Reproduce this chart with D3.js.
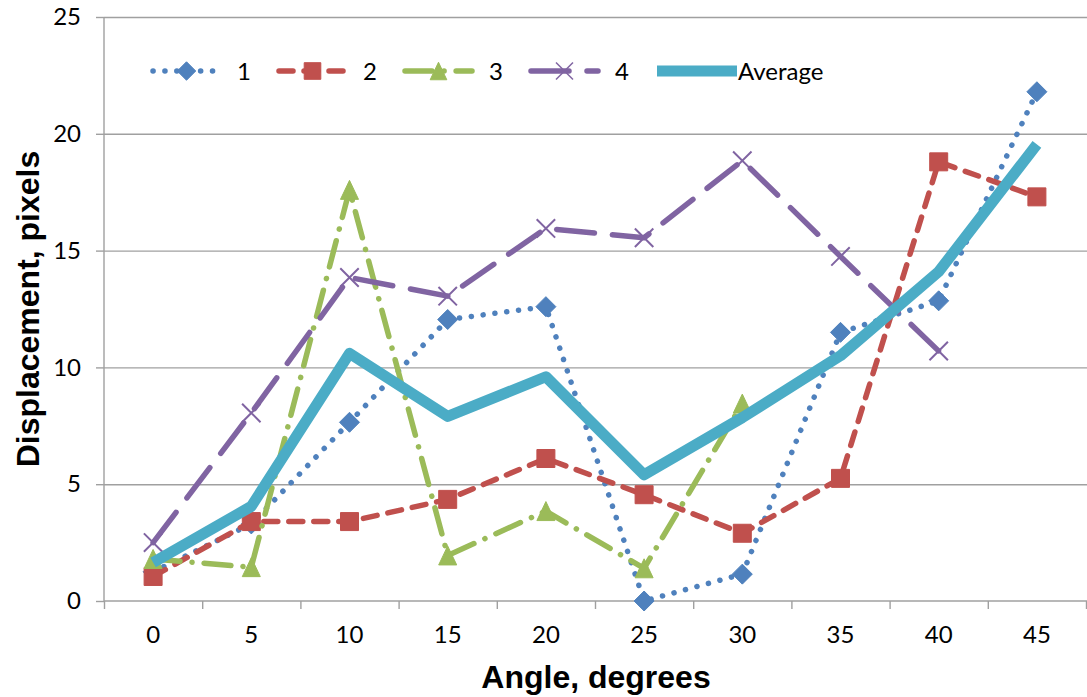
<!DOCTYPE html>
<html>
<head>
<meta charset="utf-8">
<script src="https://cdn.jsdelivr.net/npm/d3@7/dist/d3.min.js"></script>
<style>
  html, body { margin: 0; padding: 0; background: #fff; }
  svg { display: block; }
  text { font-family: Lato, "Liberation Sans", sans-serif; fill: #000; }
  .axis-title { font-family: "Liberation Sans", Arial, sans-serif; font-weight: bold; }
</style>
</head>
<body>
<svg id="chart" width="1087" height="697"></svg>
<script>
// Angle categories along the x axis
const categories = [0, 5, 10, 15, 20, 25, 30, 35, 40, 45];
// Displacement per run (pixels); null where a run has no measurement
const series1 = [1.25, 3.3, 7.65, 12.05, 12.6, 0, 1.15, 11.5, 12.85, 21.8];
const series2 = [1.05, 3.4, 3.4, 4.35, 6.1, 4.55, 2.9, 5.25, 18.8, 17.3];
const series3 = [1.8, 1.45, 17.6, 1.95, 3.85, 1.4, 8.45, null, null, null];
const series4 = [2.5, 8.05, 13.85, 13.05, 15.95, 15.55, 18.85, 14.75, 10.7, null];
const average = [1.65, 4.05, 10.6, 7.9, 9.6, 5.4, 7.85, 10.5, 14.1, 19.55];
const seriesNames = ["1", "2", "3", "4", "Average"];
const yTicks = [0, 5, 10, 15, 20, 25];

const svg = d3.select("#chart");
const plot = { left: 104, right: 1086, top: 17, bottom: 601 };

const x = d3.scaleBand().domain(categories).range([plot.left, plot.right]).padding(0);
const xEdge = d3.scaleLinear().domain([0, categories.length]).range([plot.left, plot.right]);
const y = d3.scaleLinear().domain([0, 25]).range([plot.bottom, plot.top]);
const cx = d => x(d) + x.bandwidth() / 2;

// Marker shapes
const diamond = { draw(ctx, size) { const r = Math.sqrt(size) / 2; ctx.moveTo(0, -r); ctx.lineTo(r, 0); ctx.lineTo(0, r); ctx.lineTo(-r, 0); ctx.closePath(); } };
const square = { draw(ctx, size) { const r = Math.sqrt(size) / 2; ctx.rect(-r, -r, 2 * r, 2 * r); } };
const triangle = { draw(ctx, size) { const r = Math.sqrt(size) / 2; ctx.moveTo(0, -r); ctx.lineTo(r * 0.95, r); ctx.lineTo(-r * 0.95, r); ctx.closePath(); } };
const cross = { draw(ctx, size) { const r = Math.sqrt(size) / 2; ctx.moveTo(-r, -r); ctx.lineTo(r, r); ctx.moveTo(r, -r); ctx.lineTo(-r, r); } };

const styles = [
  { values: series1, color: "#4F81BD", width: 5.5, dash: "0.1 11.8", shape: diamond, size: 400, filled: true },
  { values: series2, color: "#C0504D", width: 5.5, dash: "14 11", shape: square, size: 324, filled: true },
  { values: series3, color: "#9BBB59", width: 5.5, dash: "27 12 0.1 12", shape: triangle, size: 361, filled: true },
  { values: series4, color: "#8064A2", width: 5.5, dash: "38 18", shape: cross, size: 340, filled: false },
  { values: average, color: "#4BACC6", width: 11, dash: null, shape: null }
];

// Gridlines
svg.append("g")
  .attr("transform", `translate(${plot.left},0)`)
  .call(d3.axisLeft(y).tickValues(yTicks.filter(t => t > 0)).tickSize(-(plot.right + 1 - plot.left)).tickFormat(""))
  .call(g => g.select(".domain").remove())
  .call(g => g.selectAll("line").attr("stroke", "#A0A0A0").attr("stroke-width", 1.4));

// Y axis
svg.append("g")
  .attr("transform", `translate(${plot.left},0)`)
  .call(d3.axisLeft(y).tickValues(yTicks).tickSize(8).tickPadding(15).tickFormat(d3.format("d")))
  .call(g => g.select(".domain").attr("stroke", "#A0A0A0").attr("stroke-width", 1.4).attr("d", `M0,${plot.top}V${plot.bottom}`))
  .call(g => g.selectAll("line").attr("stroke", "#A0A0A0").attr("stroke-width", 1.4))
  .call(g => g.selectAll("text").attr("font-size", 24).style("font-family", "Lato, sans-serif"));

// X axis: tick marks on category boundaries, labels at category centres
svg.append("g")
  .attr("transform", `translate(0,${plot.bottom})`)
  .call(d3.axisBottom(xEdge).tickValues(d3.range(0, categories.length + 1)).tickSize(8).tickFormat(""))
  .call(g => g.select(".domain").attr("stroke", "#A0A0A0").attr("stroke-width", 1.4).attr("d", `M${plot.left},0H${plot.right + 1}`))
  .call(g => g.selectAll("line").attr("stroke", "#A0A0A0").attr("stroke-width", 1.4));

svg.append("g")
  .attr("transform", `translate(0,${plot.bottom})`)
  .call(d3.axisBottom(x).tickSize(0).tickPadding(25))
  .call(g => g.select(".domain").remove())
  .call(g => g.selectAll("text").attr("font-size", 24).style("font-family", "Lato, sans-serif"));

// Axis titles
svg.append("text")
  .attr("class", "axis-title")
  .attr("x", (plot.left + plot.right) / 2 + 1).attr("y", 688)
  .attr("text-anchor", "middle").attr("font-size", 32)
  .text("Angle, degrees");

svg.append("text")
  .attr("class", "axis-title")
  .attr("transform", `translate(39,${(plot.top + plot.bottom) / 2}) rotate(-90)`)
  .attr("text-anchor", "middle").attr("font-size", 32)
  .text("Displacement, pixels");

// Series lines and markers
const line = d3.line()
  .defined(d => d.v != null)
  .x(d => cx(d.c))
  .y(d => y(d.v));

styles.forEach((s, i) => {
  const pts = categories.map((c, j) => ({ c, v: s.values[j] }));
  const g = svg.append("g").attr("class", "series-" + i);
  g.append("path")
    .datum(pts)
    .attr("fill", "none")
    .attr("stroke", s.color)
    .attr("stroke-width", s.width)
    .attr("stroke-linecap", s.dash ? "round" : "butt")
    .attr("stroke-linejoin", "round")
    .attr("stroke-dasharray", s.dash)
    .attr("d", line);
  if (s.shape) {
    const sym = d3.symbol().type(s.shape).size(s.size);
    g.selectAll("path.marker")
      .data(pts.filter(d => d.v != null))
      .join("path")
      .attr("class", "marker")
      .attr("transform", d => `translate(${cx(d.c)},${y(d.v)})`)
      .attr("d", sym)
      .attr("fill", s.filled ? s.color : "none")
      .attr("stroke", s.color)
      .attr("stroke-width", s.filled ? 1 : 2);
  }
});

// Legend
const legend = svg.append("g").attr("class", "legend");
const legendY = 71;
styles.forEach((s, i) => {
  const x0 = 153 + 126 * i;
  const w = i === 4 ? 80 : 67;
  const item = legend.append("g");
  item.append("line")
    .attr("x1", x0).attr("x2", x0 + w).attr("y1", legendY).attr("y2", legendY)
    .attr("stroke", s.color).attr("stroke-width", s.width)
    .attr("stroke-linecap", s.dash ? "round" : "butt")
    .attr("stroke-dasharray", s.dash);
  if (s.shape) {
    item.append("path")
      .attr("transform", `translate(${x0 + w / 2},${legendY})`)
      .attr("d", d3.symbol().type(s.shape).size(s.size * 0.85))
      .attr("fill", s.filled ? s.color : "none")
      .attr("stroke", s.color)
      .attr("stroke-width", s.filled ? 1 : 1.5);
  }
  item.append("text")
    .attr("x", i === 4 ? x0 + 81 : x0 + 84)
    .attr("y", legendY)
    .attr("dy", "0.36em")
    .attr("font-size", 24)
    .text(seriesNames[i]);
});
</script>
</body>
</html>
